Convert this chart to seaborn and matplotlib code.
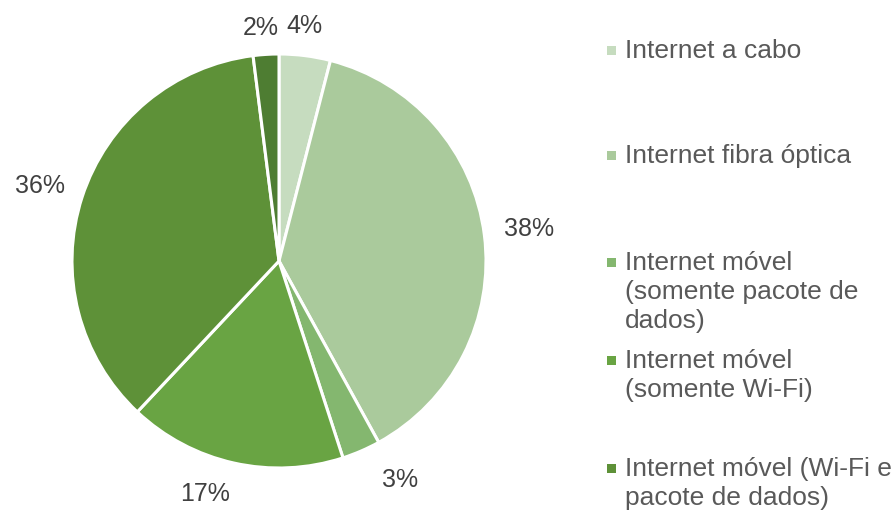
import numpy as np
import matplotlib
matplotlib.use("Agg")
import matplotlib.pyplot as plt
from matplotlib.patches import Rectangle
import seaborn as sns

# data
categories = [
    "Internet a cabo",
    "Internet fibra óptica",
    "Internet móvel\n(somente pacote de\ndados)",
    "Internet móvel\n(somente Wi-Fi)",
    "Internet móvel (Wi-Fi e\npacote de dados)",
]
values = [4, 38, 3, 17, 36, 2]
colors = ["#C6DCBF", "#AACA9C", "#84B76F", "#69A443", "#5E9138", "#4E7D32"]

sns.set_theme(style="white")
plt.rcParams['font.family'] = ['Liberation Sans', 'DejaVu Sans']

W, H = 896, 512
fig = plt.figure(figsize=(W / 100, H / 100), dpi=100)
cx, cy, r = 279, 512 - 261, 207
ax = fig.add_axes([(cx - r) / W, (cy - r) / H, 2 * r / W, 2 * r / H])

wedges, _ = ax.pie(values, colors=colors, startangle=90, counterclock=False,
                   radius=1, wedgeprops=dict(edgecolor="white", linewidth=2.2))
ax.set_xlim(-1, 1)
ax.set_ylim(-1, 1)
ax.set_aspect("equal")
ax.axis("off")

# percentage labels just outside the pie
label_dist = [1.14, 1.22, 1.21, 1.18, 1.21, 1.13]
label_tweak = [1.0, 0, 5.6, -5, 0.5, 0.8]
for w, v, d, t in zip(wedges, values, label_dist, label_tweak):
    ang = np.deg2rad((w.theta1 + w.theta2) / 2 + t)
    ax.text(d * np.cos(ang), d * np.sin(ang), f"{v}%", ha="center", va="center",
            fontsize=18, color="#404040", clip_on=False)

# legend drawn by hand (uneven spacing as in the original)
legend_y = [50, 155, 262, 360, 468]
for lab, col, y in zip(categories, colors, legend_y):
    fy = 1 - y / H
    fig.add_artist(Rectangle((607 / W, fy - 4.5 / H), 9 / W, 9 / H,
                             transform=fig.transFigure, color=col, lw=0))
    fig.text(625 / W, fy + 11 / H, lab, ha="left", va="top", fontsize=19,
             color="#595959", linespacing=1.26)

fig.savefig("out.png", dpi=100)
